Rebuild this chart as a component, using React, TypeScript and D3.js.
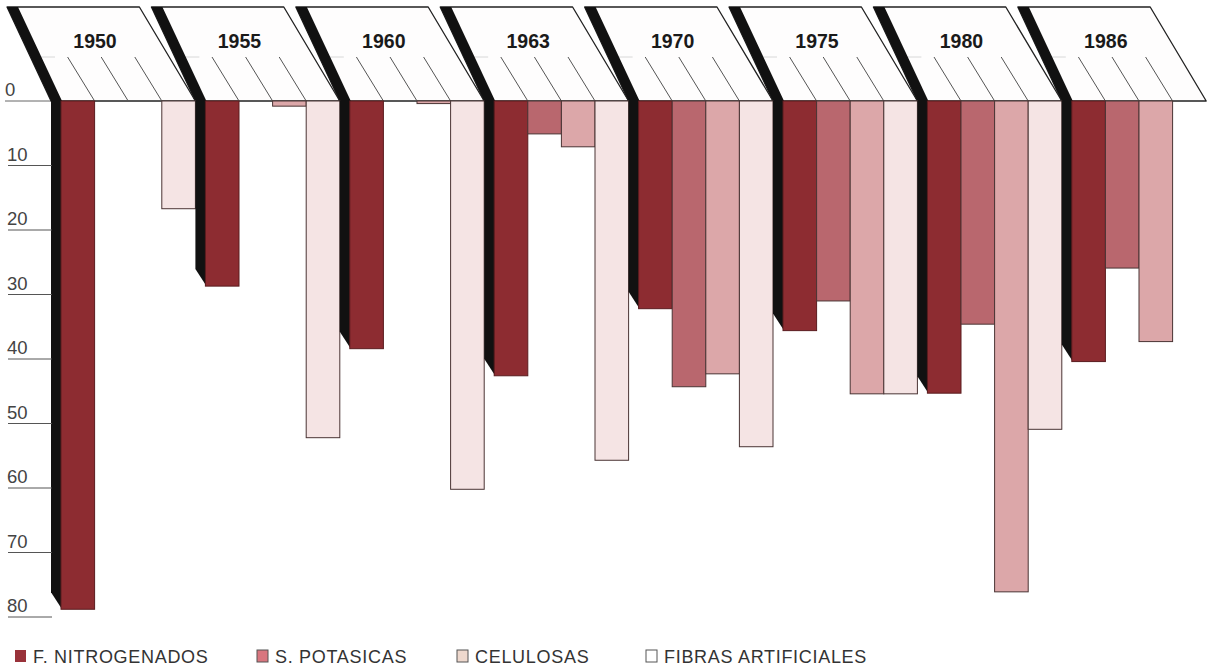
import React from 'react';
import * as d3 from 'd3';

// production index per year (axis 0-80 downward)
const years = ['1950', '1955', '1960', '1963', '1970', '1975', '1980', '1986'];
const seriesNames = ['F. NITROGENADOS', 'S. POTASICAS', 'CELULOSAS', 'FIBRAS ARTIFICIALES'];
const nitrogenados = [78.8, 28.7, 38.4, 42.6, 32.2, 35.6, 45.3, 40.4];
const potasicas = [0, 0, 0, 5.1, 44.3, 31.0, 34.6, 25.9];
const celulosas = [0, 0.8, 0.4, 7.1, 42.3, 45.4, 76.1, 37.3];
const fibras = [16.7, 52.2, 60.2, 55.7, 53.6, 45.4, 50.9, 0];
const yTicks = [0, 10, 20, 30, 40, 50, 60, 70, 80];

const seriesValues = [nitrogenados, potasicas, celulosas, fibras];
const barFill = ['#8d2c31', '#b9676e', '#dca7a9', '#f5e4e4'];
const legendFill = ['#99323a', '#d9767f', '#eed8cd', '#ffffff'];

const W = 1211;
const H = 671;
const SIDE = 10; // black 3d side width
const TOP = 7;
const FOLD = 57;

const App: React.FC = () => {
  const y = d3.scaleLinear().domain([0, 80]).range([101, 617]);
  const x = d3.scaleBand<string>().domain(years).range([51, 51 + 144.4 * years.length]);
  const slot = d3.scaleBand<string>().domain(seriesNames).range([SIDE, x.bandwidth()]);
  const y0 = y(0);
  const bw = x.bandwidth();
  const font = 'Liberation Sans, Arial, sans-serif';

  return (
    <svg width={W} height={H} style={{ position: 'absolute', left: 0, top: 0, background: '#fff' }}>
      {/* zero line left of first header */}
      <line x1={5} x2={x(years[0])!} y1={y0} y2={y0} stroke="#666" strokeWidth={1} />

      {/* year headers (3d shelf) */}
      {years.map(yr => {
        const x0 = x(yr)!;
        const pts = [
          [x0 - 44, TOP], [x0 + bw - 56, TOP], [x0 + bw, y0], [x0, y0],
        ];
        const side = [
          [x0 - 44, TOP], [x0 - 33, TOP], [x0 + SIDE + 1, y0], [x0, y0],
        ];
        return (
          <g key={'h' + yr}>
            <polygon points={pts.map(p => p.join(',')).join(' ')}
              fill="#fefdfd" stroke="#222" strokeWidth={1.3} strokeLinejoin="round" />
            <line x1={x0 - 18} x2={x0 + 4} y1={FOLD} y2={FOLD} stroke="#d8d8d8" strokeWidth={1} />
            {seriesNames.slice(1).map(s => {
              const xb = x0 + slot(s)!;
              return (
                <line key={s} x1={xb - 27} y1={FOLD} x2={xb} y2={y0}
                  stroke="#555" strokeWidth={1} />
              );
            })}
            <polygon points={side.map(p => p.join(',')).join(' ')} fill="#111" />
            <text x={x0 + 44} y={48} textAnchor="middle" fontFamily={font}
              fontWeight="bold" fontSize={19.5} fill="#1a1a1a">{yr}</text>
          </g>
        );
      })}

      {/* bars */}
      {years.map((yr, i) => {
        const x0 = x(yr)!;
        return (
          <g key={'b' + yr}>
            {seriesNames.map((s, k) => {
              const v = seriesValues[k][i];
              if (!v) return null;
              const yb = y(v);
              const bx = x0 + slot(s)!;
              return (
                <g key={s}>
                  {k === 0 && (
                    <polygon
                      points={[[x0, y0], [x0 + SIDE + 1, y0], [x0 + SIDE + 1, yb], [x0, yb - 17]]
                        .map(p => p.join(',')).join(' ')}
                      fill="#111" />
                  )}
                  <rect x={bx} y={y0} width={slot.bandwidth()} height={yb - y0}
                    fill={barFill[k]} stroke={k === 0 ? '#5a1c1f' : '#4a3434'}
                    strokeWidth={1} />
                </g>
              );
            })}
          </g>
        );
      })}

      {/* y axis labels with underlines */}
      {yTicks.map(t => (
        <g key={'t' + t}>
          {t > 0 && <line x1={8} x2={52} y1={y(t)} y2={y(t)} stroke="#555" strokeWidth={1} />}
          <text x={t === 0 ? 5 : 7} y={y(t) - 5} fontFamily={font} fontSize={18.5}
            fill="#444">{t}</text>
        </g>
      ))}

      {/* legend */}
      {seriesNames.map((s, k) => {
        const lx = [15, 257, 457, 646][k];
        return (
          <g key={'l' + s}>
            <rect x={lx} y={650} width={11} height={12} fill={legendFill[k]}
              stroke={k === 0 ? 'none' : '#555'} strokeWidth={1} />
            <text x={lx + 18} y={663} fontFamily={font} fontSize={18} letterSpacing={0.7}
              fill="#333">{s}</text>
          </g>
        );
      })}
    </svg>
  );
};

export default App;
